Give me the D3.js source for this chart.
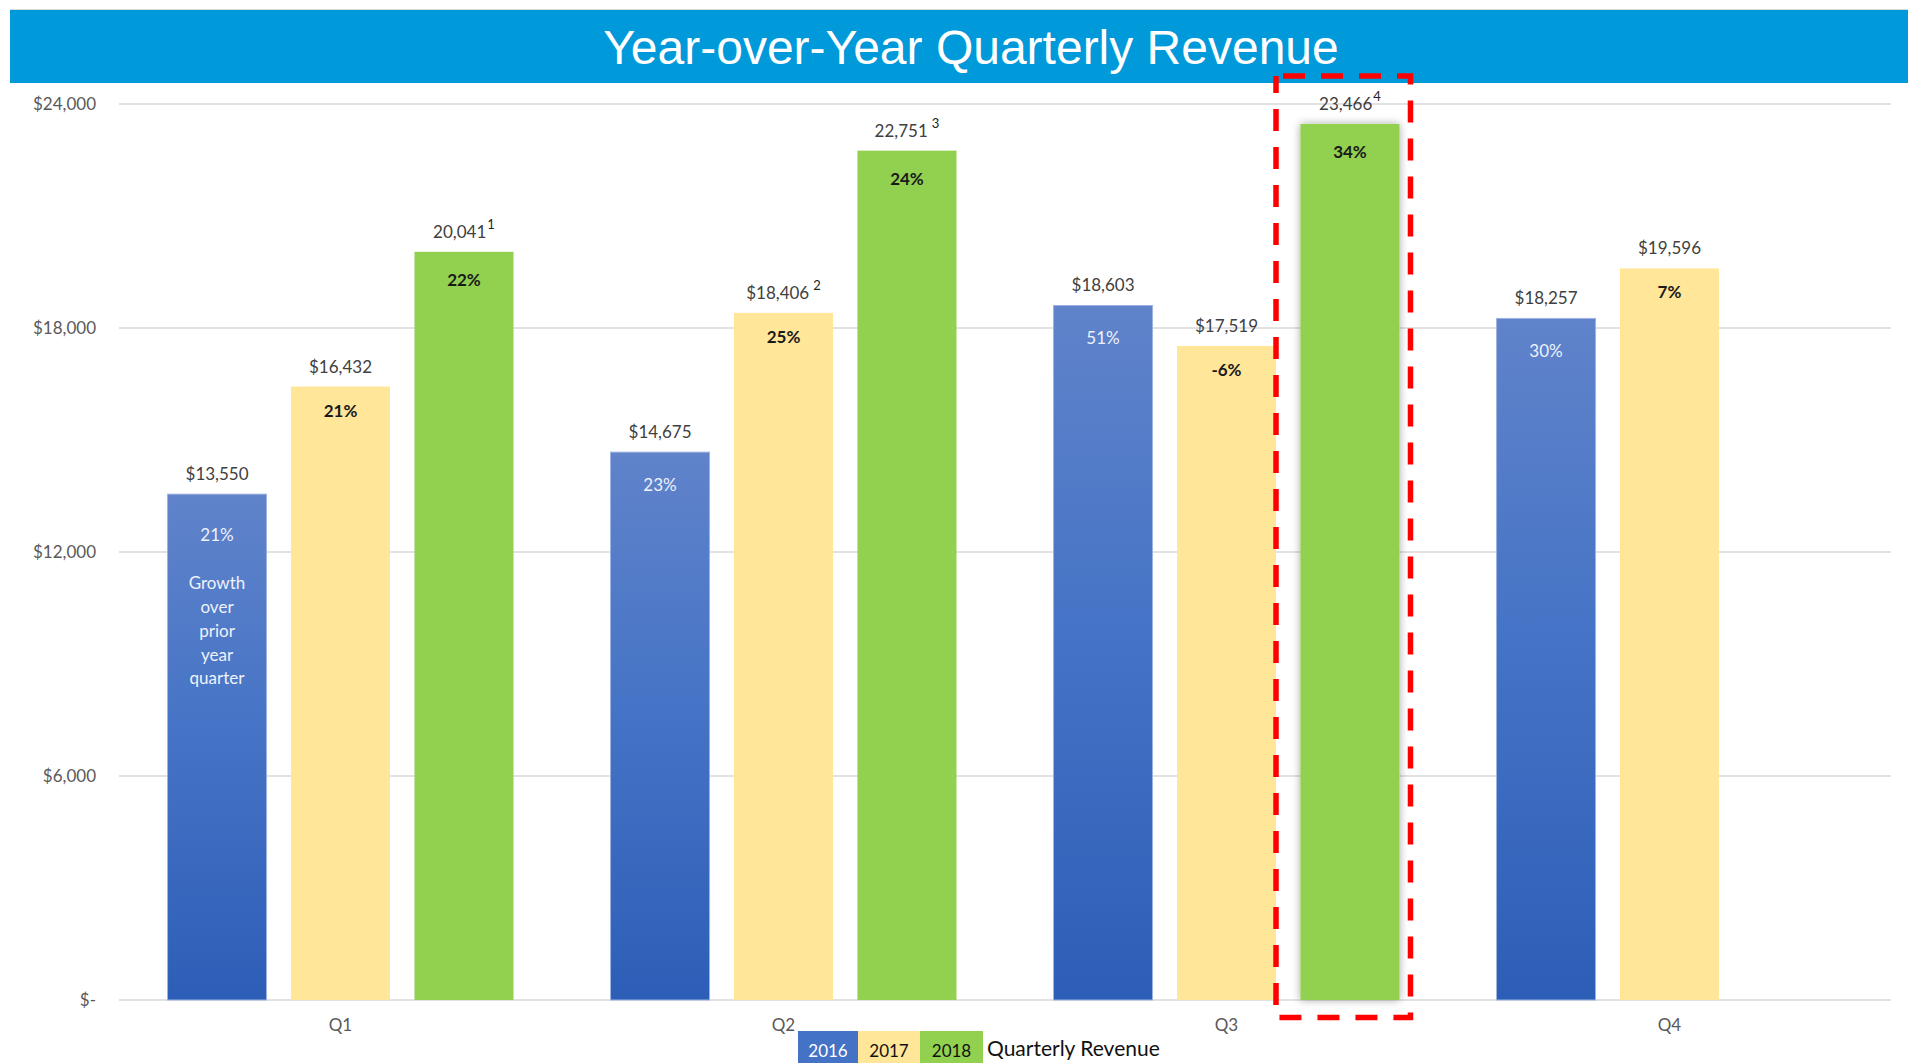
<!DOCTYPE html>
<html>
<head>
<meta charset="utf-8">
<script src="https://cdn.jsdelivr.net/npm/d3@7"></script>
<style>
  body { margin: 0; background: #fff; }
  svg { display: block; }
  .tick-label, .cat-label { font-family: Lato, "Open Sans", sans-serif; fill: #595959; }
</style>
</head>
<body>
<div id="chart"></div>
<script>
// chart values
var quarters = ["Q1", "Q2", "Q3", "Q4"];
var years = ["2016", "2017", "2018"];
var rev2016 = [13550, 14675, 18603, 18257];
var rev2017 = [16432, 18406, 17519, 19596];
var rev2018 = [20041, 22751, 23466, null];
var growth2016 = ["21%", "23%", "51%", "30%"];
var growth2017 = ["21%", "25%", "-6%", "7%"];
var growth2018 = ["22%", "24%", "34%", null];
var notes2017 = [null, "2", null, null];
var notes2018 = ["1", "3", "4", null];
var yTicks = [0, 6000, 12000, 18000, 24000];
var noteLines = ["Growth", "over", "prior", "year", "quarter"];
var titleText = "Year-over-Year Quarterly Revenue";
var legendTitle = "Quarterly Revenue";
var highlight = { quarter: "Q3", year: "2018" };

var W = 1908, H = 1063;

var svg = d3.select("#chart").append("svg")
  .attr("width", W)
  .attr("height", H);

var defs = svg.append("defs");

// blue gradient per bar
var grad = defs.append("linearGradient")
  .attr("id", "blueGrad")
  .attr("x1", 0).attr("y1", 0).attr("x2", 0).attr("y2", 1);
grad.append("stop").attr("offset", "0%").attr("stop-color", "#6083ca");
grad.append("stop").attr("offset", "45%").attr("stop-color", "#4674c6");
grad.append("stop").attr("offset", "100%").attr("stop-color", "#2d5eb7");

var shadow = defs.append("filter")
  .attr("id", "glow")
  .attr("x", "-30%").attr("y", "-10%")
  .attr("width", "160%").attr("height", "120%");
shadow.append("feDropShadow")
  .attr("dx", 0).attr("dy", 0)
  .attr("stdDeviation", 4)
  .attr("flood-color", "#000")
  .attr("flood-opacity", 0.35);

var colors = { "2016": "url(#blueGrad)", "2017": "#ffe699", "2018": "#92d050" };
var legendColors = { "2016": "#4472c4", "2017": "#ffe699", "2018": "#92d050" };

// title band
svg.append("line")
  .attr("x1", 10).attr("x2", W)
  .attr("y1", 9.5).attr("y2", 9.5)
  .attr("stroke", "#d9d9d9");
svg.append("rect")
  .attr("x", 10).attr("y", 10)
  .attr("width", W - 10).attr("height", 73)
  .attr("fill", "#0099da");
svg.append("text")
  .attr("x", 971).attr("y", 64)
  .attr("text-anchor", "middle")
  .style("font-family", "'Liberation Sans', Arial, sans-serif")
  .style("font-size", "48px")
  .style("fill", "#fff")
  .text(titleText);

// scales
var x0 = d3.scaleBand()
  .domain(quarters)
  .range([119, 1891]);

var x1 = d3.scaleBand()
  .domain(years)
  .range([0, x0.bandwidth()])
  .paddingInner(0.198)
  .paddingOuter(0.393);

var y = d3.scaleLinear()
  .domain([0, 24000])
  .range([1000, 104]);

// gridlines + tick labels
var grid = svg.append("g");
grid.selectAll("line")
  .data(yTicks)
  .enter().append("line")
  .attr("x1", 119).attr("x2", 1891)
  .attr("y1", function (d) { return y(d); })
  .attr("y2", function (d) { return y(d); })
  .attr("stroke", "#d9d9d9")
  .attr("stroke-width", 1.5);

grid.selectAll("text")
  .data(yTicks)
  .enter().append("text")
  .attr("class", "tick-label")
  .attr("x", 96)
  .attr("y", function (d) { return y(d) + 6; })
  .attr("text-anchor", "end")
  .style("font-size", "17px")
  .text(function (d) { return d === 0 ? "$-" : "$" + d3.format(",")(d); });

// category labels
svg.selectAll(".cat-label")
  .data(quarters)
  .enter().append("text")
  .attr("class", "cat-label")
  .attr("x", function (d) { return x0(d) + x0.bandwidth() / 2; })
  .attr("y", 1031)
  .attr("text-anchor", "middle")
  .style("font-size", "17px")
  .text(function (d) { return d; });

// flatten the series into bar records
var series = [
  { year: "2016", values: rev2016, growth: growth2016, notes: [null, null, null, null], dollar: true },
  { year: "2017", values: rev2017, growth: growth2017, notes: notes2017, dollar: true },
  { year: "2018", values: rev2018, growth: growth2018, notes: notes2018, dollar: false }
];
var bars = [];
series.forEach(function (s) {
  quarters.forEach(function (q, i) {
    if (s.values[i] == null) return;
    bars.push({
      quarter: q, year: s.year, value: s.values[i],
      growth: s.growth[i], note: s.notes[i], dollar: s.dollar
    });
  });
});

var barX = function (d) { return x0(d.quarter) + x1(d.year); };
var isHi = function (d) { return d.quarter === highlight.quarter && d.year === highlight.year; };

var barG = svg.append("g");
barG.selectAll("rect")
  .data(bars)
  .enter().append("rect")
  .attr("x", barX)
  .attr("y", function (d) { return y(d.value); })
  .attr("width", x1.bandwidth())
  .attr("height", function (d) { return y(0) - y(d.value); })
  .attr("fill", function (d) { return colors[d.year]; })
  .attr("stroke", function (d) { return d.year === "2016" ? "#9db3e0" : "none"; })
  .attr("stroke-width", 1)
  .attr("filter", function (d) { return isHi(d) ? "url(#glow)" : null; });

// value labels above bars
var valLabels = svg.append("g").selectAll("text")
  .data(bars)
  .enter().append("text")
  .attr("x", function (d) { return barX(d) + x1.bandwidth() / 2; })
  .attr("y", function (d) { return y(d.value) - 14; })
  .attr("text-anchor", "middle")
  .style("font-family", "Lato, 'Open Sans', sans-serif")
  .style("font-size", "17px")
  .style("fill", "#404040");
valLabels.append("tspan")
  .text(function (d) { return (d.dollar ? "$" : "") + d3.format(",")(d.value); });
valLabels.filter(function (d) { return d.note; })
  .append("tspan")
  .attr("dx", function (d) { return d.year === "2017" || d.quarter === "Q2" ? 4 : 1; })
  .attr("dy", -9)
  .style("font-size", "13px")
  .style("fill", "#222")
  .text(function (d) { return d.note; });

// growth labels inside bars
var pctOffset = { "2016": 39, "2017": 30, "2018": 34 };
svg.append("g").selectAll("text")
  .data(bars)
  .enter().append("text")
  .attr("x", function (d) { return barX(d) + x1.bandwidth() / 2; })
  .attr("y", function (d) {
    var off = (d.year === "2016" && d.quarter === "Q1") ? 47 : pctOffset[d.year];
    return y(d.value) + off;
  })
  .attr("text-anchor", "middle")
  .style("font-family", "Lato, 'Open Sans', sans-serif")
  .style("font-size", "17px")
  .style("font-weight", function (d) { return d.year === "2016" ? "normal" : "bold"; })
  .style("fill", function (d) { return d.year === "2016" ? "#eef2fb" : "#1a1a1a"; })
  .text(function (d) { return d.growth; });

// note in first bar
var first = bars[0];
svg.append("text")
  .attr("x", barX(first) + x1.bandwidth() / 2)
  .attr("y", y(first.value) + 95)
  .attr("text-anchor", "middle")
  .style("font-family", "Lato, 'Open Sans', sans-serif")
  .style("font-size", "17px")
  .style("fill", "#eef2fb")
  .selectAll("tspan")
  .data(noteLines)
  .enter().append("tspan")
  .attr("x", barX(first) + x1.bandwidth() / 2)
  .attr("dy", function (d, i) { return i === 0 ? 0 : 23.8; })
  .text(function (d) { return d; });

// red dashed highlight box
var hq = x0(highlight.quarter);
var boxL = hq + x1("2017") + x1.bandwidth();
var boxR = hq + x1(highlight.year) + x1.bandwidth() + 11;
var boxT = y(24000) - 28;
var boxB = y(0) + 17.5;
svg.append("path")
  .attr("d", "M" + (boxL + 7) + "," + boxT + "H" + boxR + "V" + boxB + "H" + boxL + "V" + boxT)
  .attr("fill", "none")
  .attr("stroke", "#ff0000")
  .attr("stroke-width", 5.5)
  .attr("stroke-dasharray", "22,16");

// legend
var legend = svg.append("g").attr("transform", "translate(798,1031)");
var legW = [60, 62, 63];
var lx = 0;
years.forEach(function (yr, i) {
  legend.append("rect")
    .attr("x", lx).attr("y", 0)
    .attr("width", legW[i]).attr("height", 40)
    .attr("fill", legendColors[yr]);
  legend.append("text")
    .attr("x", lx + legW[i] / 2).attr("y", 26)
    .attr("text-anchor", "middle")
    .style("font-family", "Lato, 'Open Sans', sans-serif")
    .style("font-size", "17px")
    .style("fill", i === 0 ? "#fff" : "#111")
    .text(yr);
  lx += legW[i];
});
legend.append("text")
  .attr("x", lx + 4).attr("y", 25)
  .style("font-family", "Lato, 'Open Sans', sans-serif")
  .style("font-size", "21px")
  .style("fill", "#111")
  .text(legendTitle);
</script>
</body>
</html>
